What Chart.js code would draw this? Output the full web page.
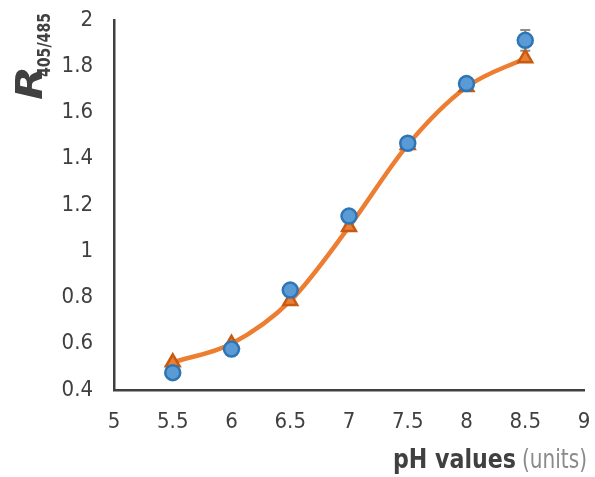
<!DOCTYPE html>
<html><head><meta charset="utf-8">
<script src="https://cdn.jsdelivr.net/npm/chart.js@4/dist/chart.umd.min.js"></script>
<style>html,body{margin:0;padding:0;background:#fff}#wrap{width:595px;height:477px}</style>
</head><body><div id="wrap"><canvas id="c" width="595" height="477"></canvas></div>
<script>
const phValues = [5.5, 6, 6.5, 7, 7.5, 8, 8.5];
const seriesCircle = [0.475, 0.577, 0.832, 1.152, 1.467, 1.725, 1.912];
const seriesTriangle = [0.52, 0.60, 0.785, 1.105, 1.46, 1.71, 1.835];
const circleErr = [0.01, 0.01, 0.01, 0.01, 0.01, 0.01, 0.045];
const xTicks = [5, 5.5, 6, 6.5, 7, 7.5, 8, 8.5, 9];
const yTicks = [0.4, 0.6, 0.8, 1, 1.2, 1.4, 1.6, 1.8, 2];

const FONT = '"DejaVu Sans Condensed", "Liberation Sans Narrow", "Arial Narrow", sans-serif';
const AXIS = '#404040';

const toPts = arr => phValues.map((x, i) => ({x, y: arr[i]}));

function fitText(ctx, text, font, x, y, width) {
  ctx.font = font;
  const w = ctx.measureText(text).width;
  ctx.save();
  ctx.translate(x, y);
  ctx.scale(width / w, 1);
  ctx.fillText(text, 0, 0);
  ctx.restore();
}

const errPlugin = {
  id: 'err',
  beforeDatasetsDraw(chart) {
    const {ctx, scales: {x, y}} = chart;
    ctx.save();
    ctx.strokeStyle = '#8c8c8c';
    ctx.lineWidth = 2;
    phValues.forEach((v, i) => {
      const e = circleErr[i];
      const px = x.getPixelForValue(v);
      const top = y.getPixelForValue(seriesCircle[i] + e);
      const bot = y.getPixelForValue(seriesCircle[i] - e);
      ctx.beginPath();
      ctx.moveTo(px, top); ctx.lineTo(px, bot);
      ctx.moveTo(px - 5, top); ctx.lineTo(px + 5, top);
      ctx.moveTo(px - 5, bot); ctx.lineTo(px + 5, bot);
      ctx.stroke();
    });
    ctx.restore();
  }
};

const titlePlugin = {
  id: 'titles',
  afterDraw(chart) {
    const {ctx} = chart;
    ctx.save();
    ctx.textBaseline = 'alphabetic';
    ctx.textAlign = 'left';
    ctx.fillStyle = AXIS;
    fitText(ctx, 'pH values', 'bold 27px ' + FONT, 393, 468, 123);
    ctx.fillStyle = '#8a8a8a';
    fitText(ctx, '(units)', '27px ' + FONT, 522, 468, 65);
    ctx.translate(42, 100);
    ctx.rotate(-Math.PI / 2);
    ctx.fillStyle = AXIS;
    fitText(ctx, 'R', 'italic bold 37px ' + FONT, 0, 0, 34);
    fitText(ctx, '405/485', 'bold 18px ' + FONT, 23, 8, 64);
    ctx.restore();
  }
};

new Chart(document.getElementById('c'), {
  type: 'line',
  data: {
    datasets: [
      {
        label: 'circle', data: toPts(seriesCircle), showLine: false, order: 0,
        pointStyle: 'circle', pointRadius: 7.5, pointBorderWidth: 2.5,
        pointBackgroundColor: '#5B9BD5', pointBorderColor: '#2E75B6'
      },
      {
        label: 'triangle', data: toPts(seriesTriangle), showLine: false, order: 1,
        pointStyle: 'triangle', pointRadius: 8, pointBorderWidth: 2.5,
        pointBackgroundColor: '#ED7D31', pointBorderColor: '#C55A11'
      },
      {
        label: 'fit', data: toPts(seriesTriangle), order: 2,
        borderColor: '#ED7D31', borderWidth: 4.5, pointRadius: 0,
        cubicInterpolationMode: 'monotone', fill: false
      }
    ]
  },
  options: {
    responsive: false, animation: false, events: [],
    layout: {padding: {top: 20, right: 11, left: 0, bottom: 0}},
    plugins: {legend: {display: false}, tooltip: {enabled: false}},
    scales: {
      x: {
        type: 'linear', min: 5, max: 9,
        afterBuildTicks: s => { s.ticks = xTicks.map(v => ({value: v})); },
        afterFit: s => { s.height = 87; s.paddingLeft = 0; s.paddingRight = 0; },
        grid: {display: false, drawTicks: true, tickLength: 7, tickColor: AXIS, tickWidth: 2.5},
        border: {display: true, color: AXIS, width: 2.5},
        ticks: {color: '#404040', font: {family: FONT, size: 22}, padding: 12, maxRotation: 0,
                callback: v => String(v)}
      },
      y: {
        min: 0.4, max: 2,
        afterBuildTicks: s => { s.ticks = yTicks.map(v => ({value: v})); },
        afterFit: s => { s.width = 114; s.paddingTop = 0; s.paddingBottom = 0; },
        grid: {display: false, drawTicks: true, tickLength: 7, tickColor: AXIS, tickWidth: 2.5},
        border: {display: true, color: AXIS, width: 2.5},
        ticks: {color: '#404040', font: {family: FONT, size: 22}, padding: 14,
                callback: v => String(v)}
      }
    }
  },
  plugins: [errPlugin, titlePlugin]
});
</script></body></html>
